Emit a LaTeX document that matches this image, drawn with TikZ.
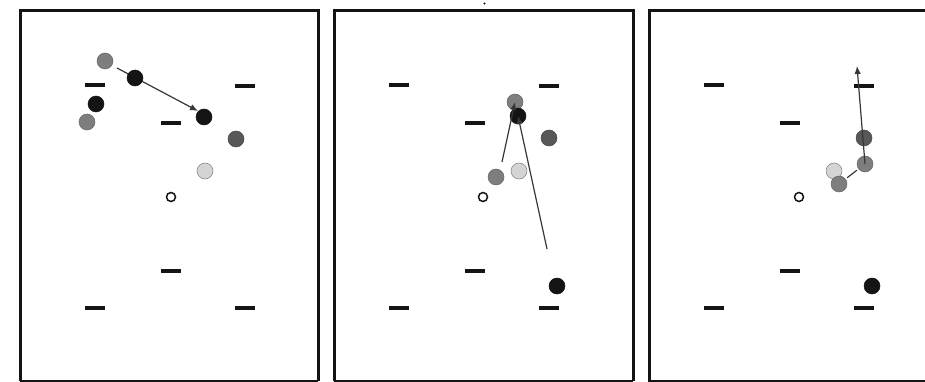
\documentclass[tikz,border=0pt]{standalone}
\usetikzlibrary{arrows.meta}
\definecolor{midgray}{HTML}{7E7E7E}
\definecolor{darkgray2}{HTML}{585858}
\definecolor{lightgray2}{HTML}{D4D4D4}
\definecolor{ink}{HTML}{141414}
\tikzset{
  panel/.style={draw=ink, line width=3pt},
  dashmark/.style={draw=ink, line width=3.2pt},
  ball/.style={circle, minimum size=16pt, inner sep=0pt, line width=0.5pt},
  grayball/.style={ball, fill=midgray, draw=midgray!80!black},
  darkball/.style={ball, fill=darkgray2, draw=darkgray2!80!black},
  blackball/.style={ball, fill=ink, draw=ink},
  lightball/.style={ball, fill=lightgray2, draw=midgray},
  whiteball/.style={circle, minimum size=9pt, inner sep=0pt, fill=white, draw=ink, line width=1.5pt},
  move/.style={draw=ink!85, line width=1.2pt},
  movearrow/.style={move, -{Latex[length=8pt,width=6.5pt]}}
}
\newcommand{\fieldmarks}[1]{%
  \draw[dashmark] (#1+65,85) -- ++(20,0);
  \draw[dashmark] (#1+215,86) -- ++(20,0);
  \draw[dashmark] (#1+141,123) -- ++(20,0);
  \draw[dashmark] (#1+141,271) -- ++(20,0);
  \draw[dashmark] (#1+65,308) -- ++(20,0);
  \draw[dashmark] (#1+215,308) -- ++(20,0);
}
\begin{document}
\begin{tikzpicture}[x=1pt,y=-1pt]
\useasboundingbox (0,0) rectangle (925,382);
\fill[white] (0,0) rectangle (925,382);
% panels
\draw[panel] (20,381) -- (20,11) -- (318,11) -- (318,381);
\draw[panel] (20,381) -- (318,381);
\draw[panel] (334,381) -- (334,11) -- (633,11) -- (633,381);
\draw[panel] (334,381) -- (633,381);
\draw[panel] (930,11) -- (649,11) -- (649,381) -- (930,381);
\fill[ink] (484.5,3.5) circle (1.2pt);
% ---------- panel 1 ----------
\fieldmarks{20}
\node[grayball] (a1) at (105,61) {};
\node[blackball] (a2) at (96,104) {};
\node[grayball] (a3) at (87,122) {};
\node[blackball] (a5) at (204,117) {};
\node[darkball] (a6) at (236,139) {};
\node[lightball] (a7) at (205,171) {};
\node[whiteball] (a8) at (171,197) {};
\coordinate (s1) at (117,68);
\coordinate (e1) at (198,111);
\draw[movearrow] (s1) -- (e1);
\node[blackball] (a4) at (135,78) {};
% ---------- panel 2 ----------
\fieldmarks{324}
\node[grayball] (b1) at (515,102) {};
\node[blackball] (b2) at (518,116) {};
\node[darkball] (b3) at (549,138) {};
\node[grayball] (b4) at (496,177) {};
\node[lightball] (b5) at (519,171) {};
\node[whiteball] (b6) at (483,197) {};
\node[blackball] (b7) at (557,286) {};
\coordinate (s2) at (502,162);
\coordinate (s3) at (547,249);
\draw[movearrow] (s2) -- (b1.center);
\draw[movearrow] (s3) -- (b2.center);
% ---------- panel 3 ----------
\fieldmarks{639}
\node[lightball] (c3) at (834,171) {};
\node[grayball] (c4) at (839,184) {};
\node[grayball] (c2) at (865,164) {};
\node[darkball] (c1) at (864,138) {};
\node[whiteball] (c5) at (799,197) {};
\node[blackball] (c6) at (872,286) {};
\coordinate (t1) at (857,66);
\draw[movearrow] (c2.center) -- (t1);
\draw[move, shorten <=2pt, shorten >=2pt] (c4) -- (c2);
\end{tikzpicture}
\end{document}
